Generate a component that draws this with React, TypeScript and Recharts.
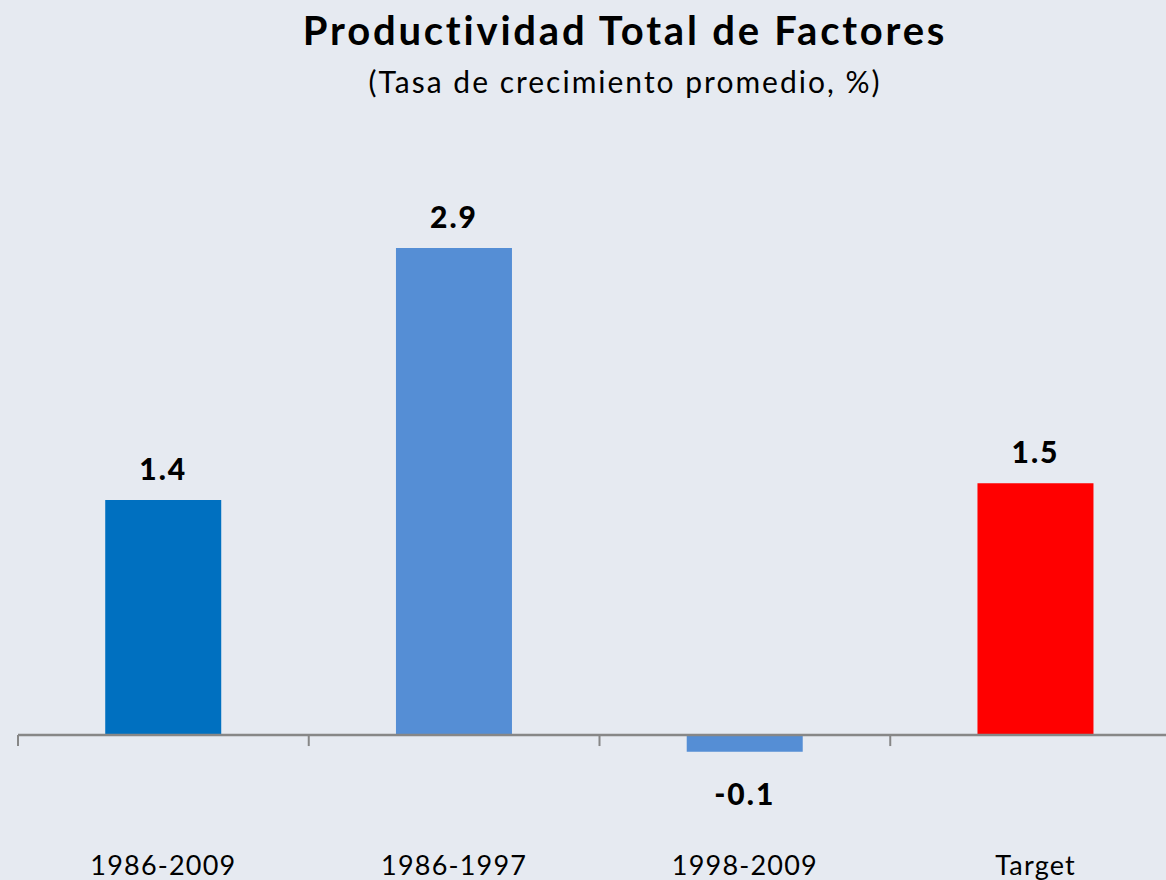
import React from "react";
import { BarChart, Bar, XAxis, YAxis, Cell, LabelList, ReferenceLine } from "recharts";

const categories = ["1986-2009", "1986-1997", "1998-2009", "Target"];
const values = [1.4, 2.9, -0.1, 1.5];
const colors = ["#0070C0", "#558ED5", "#558ED5", "#FF0000"];
const yDomain = [-0.5, 3.5];

const data = categories.map((c, i) => ({ name: c, value: values[i] }));

const FONT = "Lato, 'Open Sans', sans-serif";
const BG = "#E6EAF1";

const CatTick = (props: any) => {
  const { x, y, payload } = props;
  return (
    <text x={x} y={y + 56} textAnchor="middle" fontFamily={FONT} fontSize={27} letterSpacing={1.2} fill="#000">
      {payload.value}
    </text>
  );
};

const ValueLabel = (props: any) => {
  const { x, y, width, height, value } = props;
  const top = Math.min(y, y + height);
  const bottom = Math.max(y, y + height);
  const cx = x + width / 2;
  const ty = value >= 0 ? top - 20 : bottom + 53;
  return (
    <text x={cx} y={ty} textAnchor="middle" fontFamily={FONT} fontWeight={900} fontSize={30} letterSpacing={2} fill="#000">
      {value.toFixed(1)}
    </text>
  );
};

const ZeroAxis = (props: any) => {
  const { x1, x2, y1 } = props;
  const n = categories.length;
  const ticks = [];
  for (let i = 0; i <= n; i++) {
    const tx = x1 + ((x2 - x1) * i) / n;
    ticks.push(<line key={i} x1={tx} x2={tx} y1={y1} y2={y1 + 11} stroke="#878787" strokeWidth={2} />);
  }
  return (
    <g>
      <line x1={x1} x2={x2} y1={y1} y2={y1} stroke="#878787" strokeWidth={2.5} />
      {ticks}
    </g>
  );
};

export default function App() {
  return (
    <div style={{ position: "absolute", left: 0, top: 0, width: 1166, height: 880, overflow: "hidden", background: BG }}>
      <div style={{ position: "absolute", left: 0, top: 6, width: 1250, textAlign: "center", fontFamily: FONT, fontWeight: 700, fontSize: 40, letterSpacing: 2.8, color: "#000" }}>
        Productividad Total de Factores
      </div>
      <div style={{ position: "absolute", left: 0, top: 63, width: 1250, textAlign: "center", fontFamily: FONT, fontSize: 30, letterSpacing: 2, color: "#000" }}>
        (Tasa de crecimiento promedio, %)
      </div>
      <div style={{ position: "absolute", left: 0, top: 0 }}>
        <BarChart width={1200} height={880} data={data} margin={{ top: 147.35, right: 19, left: 18, bottom: 21 }} barCategoryGap="30%">
          <XAxis dataKey="name" height={40} axisLine={false} tickLine={false} tickSize={0} tickMargin={0} tick={<CatTick />} interval={0} />
          <YAxis hide domain={yDomain} />
          <ReferenceLine y={0} stroke="#878787" shape={<ZeroAxis />} />
          <Bar dataKey="value" isAnimationActive={false}>
            {data.map((d, i) => (
              <Cell key={d.name} fill={colors[i]} />
            ))}
            <LabelList dataKey="value" content={<ValueLabel />} />
          </Bar>
        </BarChart>
      </div>
    </div>
  );
}
